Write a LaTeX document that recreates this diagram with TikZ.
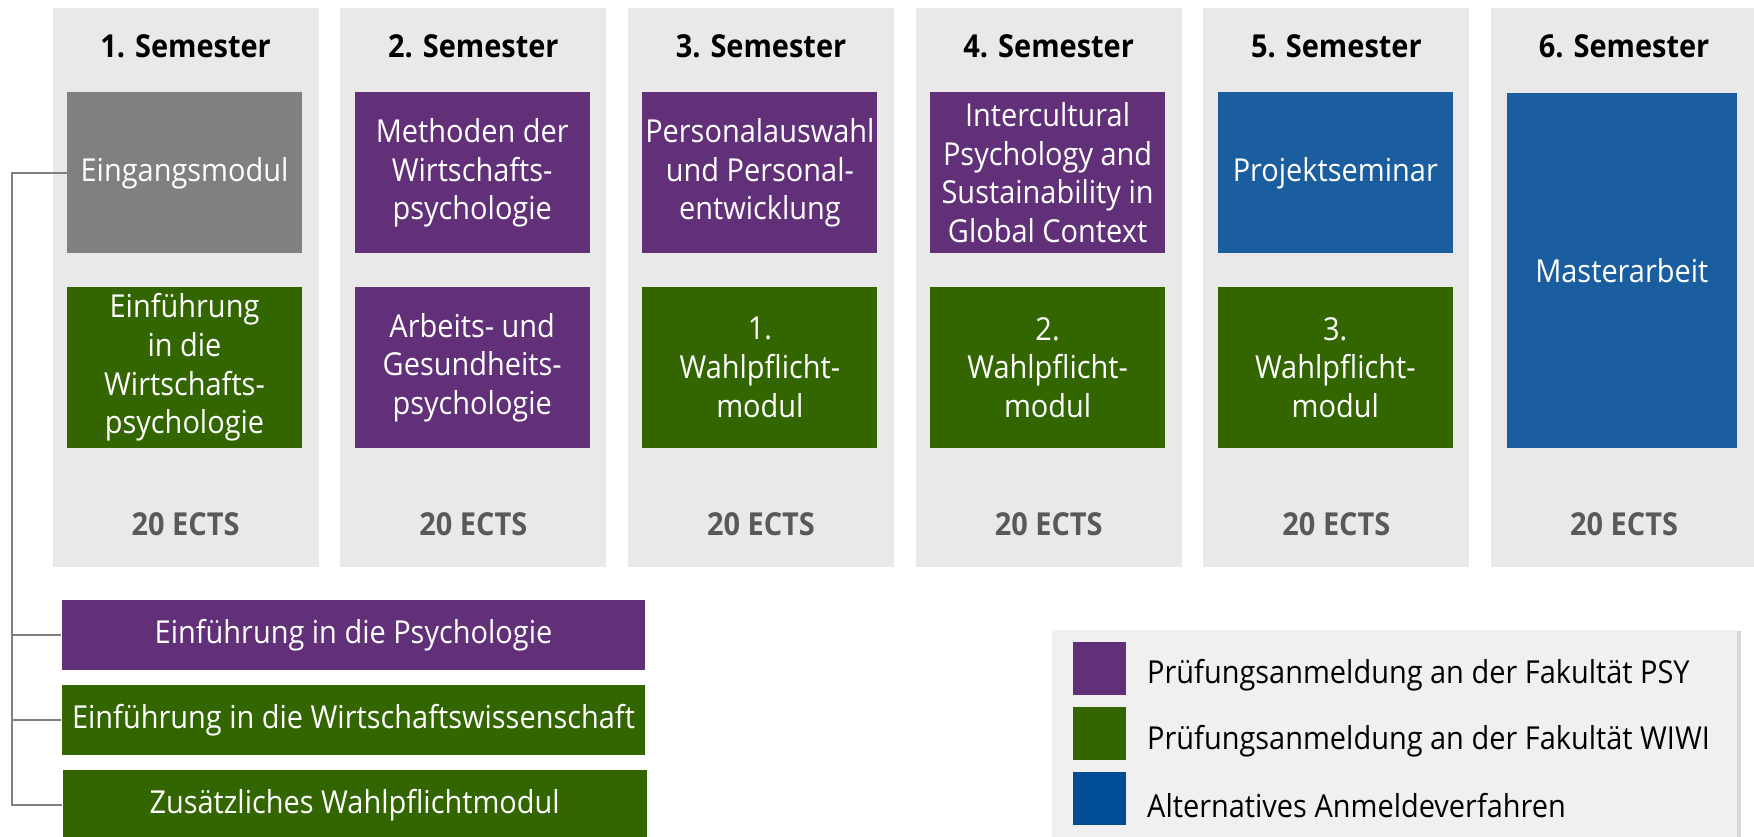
\documentclass[tikz,border=0pt]{standalone}
\usepackage{fontspec}
\setmainfont{Open Sans}[FakeStretch=0.915]
\usetikzlibrary{positioning,shadows}

\definecolor{psy}{RGB}{97,48,121}
\definecolor{wiwi}{RGB}{51,102,0}
\definecolor{alt}{RGB}{27,94,160}
\definecolor{altdark}{RGB}{0,76,151}
\definecolor{eingang}{RGB}{128,128,128}
\definecolor{colbg}{RGB}{233,233,233}
\definecolor{legbg}{RGB}{240,240,240}
\definecolor{ectsgray}{RGB}{89,89,89}
\definecolor{linegray}{RGB}{127,127,127}

\tikzset{
  modbox/.style={minimum width=4.7cm, minimum height=3.22cm, inner sep=0pt, align=center, text=white, font=\fontsize{18}{22}\selectfont},
  widebox/.style={minimum width=11.68cm, minimum height=1.4cm, inner sep=0pt, text=white, font=\fontsize{18}{22}\selectfont},
  semhead/.style={font=\fontsize{18}{22}\selectfont\bfseries},
  ects/.style={font=\fontsize{18}{22}\selectfont\bfseries, text=ectsgray},
  legsq/.style={minimum size=1.06cm, inner sep=0pt},
  legtext/.style={inner sep=0pt, yshift=-0.14cm, font=\fontsize{18}{22}\selectfont},
  conn/.style={draw=linegray, line width=1.1pt}
}

\begin{document}
\begin{tikzpicture}[x=0.02cm,y=-0.02cm]
\useasboundingbox (0,0) rectangle (1754,836);

% semester columns
\foreach \i [count=\n] in {0,...,5}{
  \fill[colbg] ({52.6+287.7*\i},7.8) rectangle +(266,559.2);
  \node[semhead] (sem\n) at ({185.6+287.7*\i},46) {\n. Semester};
  \node[ects] (ects\n) at ({185.6+287.7*\i},524.6) {20 ECTS};
}

% modules
\node[modbox, fill=eingang] (eing) at (184.5,172.8) {Eingangsmodul};
\node[modbox, fill=wiwi] (einfwp) at (184.5,367.5) {Einführung\\in die\\Wirtschafts-\\psychologie};
\node[modbox, fill=psy] (meth) at (472.2,172.8) {Methoden der\\Wirtschafts-\\psychologie};
\node[modbox, fill=psy] (agp) at (472.2,367.5) {Arbeits- und\\Gesundheits-\\psychologie};
\node[modbox, fill=psy] (pers) at (759.9,172.8) {Personalauswahl\\und Personal-\\entwicklung};
\node[modbox, fill=wiwi] (wp1) at (759.9,367.5) {1.\\Wahlpflicht-\\modul};
\node[modbox, fill=psy] (icp) at (1047.6,172.8) {Intercultural\\Psychology and\\Sustainability in\\Global Context};
\node[modbox, fill=wiwi] (wp2) at (1047.6,367.5) {2.\\Wahlpflicht-\\modul};
\node[modbox, fill=alt] (proj) at (1335.3,172.8) {Projektseminar};
\node[modbox, fill=wiwi] (wp3) at (1335.3,367.5) {3.\\Wahlpflicht-\\modul};
\node[modbox, fill=alt, minimum width=4.6cm, minimum height=7.11cm] (master) at (1621.8,270.6) {Masterarbeit};

% Eingangsmodul parts
\node[widebox, fill=psy] (einfpsy) at (353.5,635.4) {Einführung in die Psychologie};
\node[widebox, fill=wiwi] (einfwiwi) at (353.5,719.8) {Einführung in die Wirtschaftswissenschaft};
\node[widebox, fill=wiwi] (zwp) at (354.6,805) {Zusätzliches Wahlpflichtmodul};

\coordinate (trunk) at (12.3,172.8);
\draw[conn] (eing.west) -- (trunk) |- (zwp.west);
\draw[conn] (einfpsy.west -| trunk) -- (einfpsy.west);
\draw[conn] (einfwiwi.west -| trunk) -- (einfwiwi.west);

% legend
\node[fill=legbg, minimum width=13.71cm, minimum height=4.3cm, inner sep=0pt,
  drop shadow={shadow xshift=2pt, shadow yshift=-1pt, opacity=0.3}] (legend) at (1394.3,737) {};
\node[legsq, fill=psy] (lpsy) at (1099,668) {};
\node[legsq, fill=wiwi] (lwiwi) at (1099,733.8) {};
\node[legsq, fill=altdark] (lalt) at (1099,798.6) {};
\node[legtext, right=0.42cm of lpsy] (tpsy) {Prüfungsanmeldung an der Fakultät PSY};
\node[legtext, right=0.42cm of lwiwi] (twiwi) {Prüfungsanmeldung an der Fakultät WIWI};
\node[legtext, right=0.42cm of lalt] (talt) {Alternatives Anmeldeverfahren};
\end{tikzpicture}
\end{document}
